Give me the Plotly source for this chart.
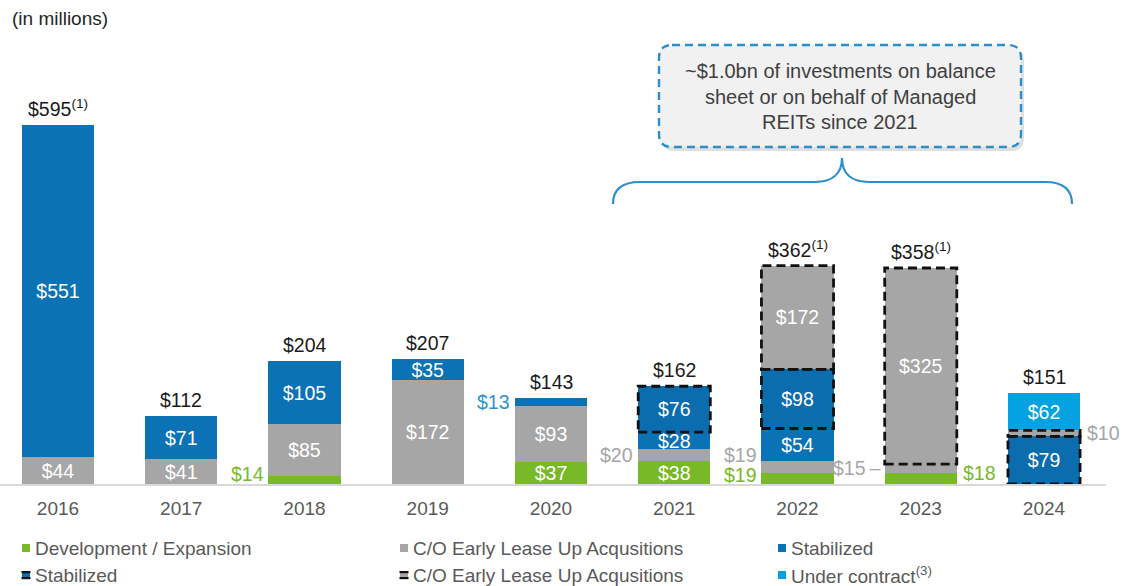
import plotly.graph_objects as go

# ---------------- data ----------------
years = ["2016", "2017", "2018", "2019", "2020", "2021", "2022", "2023", "2024"]
development = [0, 0, 14, 0, 37, 38, 19, 18, 0]
early_lease = [44, 41, 85, 172, 93, 20, 19, 15, 0]
stabilized = [551, 71, 105, 35, 13, 28, 54, 0, 0]
stabilized_dashed = [0, 0, 0, 0, 0, 76, 98, 0, 79]
early_lease_dashed = [0, 0, 0, 0, 0, 0, 172, 325, 10]
under_contract = [0, 0, 0, 0, 0, 0, 0, 0, 62]
total_footnotes = ["(1)", "", "", "", "", "", "(1)", "(1)", ""]

series = [
    ("dev", "Development / Expansion", development, "#78b928"),
    ("early", "C/O Early Lease Up Acqusitions", early_lease, "#a6a6a6"),
    ("stab", "Stabilized", stabilized, "#0b72b6"),
    ("stab_d", "Stabilized", stabilized_dashed, "#0b6dae"),
    ("early_d", "C/O Early Lease Up Acqusitions", early_lease_dashed, "#a6a6a6"),
    ("under", "Under contract<sup>(3)</sup>", under_contract, "#05a2e2"),
]
dashed_keys = ["stab_d", "early_d"]

# labels drawn beside a bar: (series key, year index, side, vertical shift px, colour, suffix)
outside_labels = [
    ("dev", 2, "left", 6, "#78b928", ""),
    ("stab", 4, "left", 0, "#2a93d0", ""),
    ("early", 5, "left", 0, "#a6a6a6", ""),
    ("early", 6, "left", 12, "#a6a6a6", ""),
    ("dev", 6, "left", 3, "#78b928", ""),
    ("early", 7, "left", 1, "#a6a6a6", "\u2009\u2013"),
    ("dev", 7, "right", 6, "#78b928", ""),
    ("early_d", 8, "right", 0, "#a6a6a6", ""),
]

FONT = "Liberation Sans, Arial, sans-serif"
W, H = 1131, 586
PL, PR, PT, PB = 0, 1106, 10, 484  # plot area in pixels
BAR_W = 0.585
X_RANGE = [-0.4706, 8.503]
Y_MAX = 785.6
INSIDE_MIN = 25
LABEL_SIZE = 19.5


def px(xp):
    return (xp - PL) / (PR - PL)


def py(yp):
    return (PB - yp) / (PB - PT)


def pt(xp, yp):
    return f"{px(xp):.5f},{py(yp):.5f}"


xs = list(range(len(years)))
fig = go.Figure()
values_by_key = {}
for key, name, vals, color in series:
    values_by_key[key] = vals
    fig.add_trace(go.Bar(
        x=xs, y=vals, name=name, width=BAR_W,
        marker=dict(color=color, line=dict(width=0)),
        text=[f"${v}" for v in vals],
        textposition=["inside" if v >= INSIDE_MIN else "none" for v in vals],
        insidetextanchor="middle", textangle=0,
        constraintext="none",
        textfont=dict(color="white", size=LABEL_SIZE, family=FONT),
        hoverinfo="skip", showlegend=False,
    ))

# cumulative bottoms for each series
bottoms = {}
running = [0] * len(years)
for key, name, vals, color in series:
    bottoms[key] = list(running)
    running = [r + v for r, v in zip(running, vals)]
totals = running

shapes = []
annotations = []

# dashed outlines around dashed series segments
for key in dashed_keys:
    vals = values_by_key[key]
    for i, v in enumerate(vals):
        if v > 0:
            shapes.append(dict(
                type="rect", xref="x", yref="y",
                x0=i - BAR_W / 2, x1=i + BAR_W / 2,
                y0=bottoms[key][i], y1=bottoms[key][i] + v,
                line=dict(color="#111111", width=2.8, dash="9px,5px"),
                fillcolor="rgba(0,0,0,0)", layer="above",
            ))

# totals above bars
for i, t in enumerate(totals):
    fn = total_footnotes[i]
    txt = f"${t}" + (f"<sup>{fn}</sup>" if fn else "")
    annotations.append(dict(
        x=i, y=t, xref="x", yref="y", text=txt, showarrow=False,
        yanchor="bottom", yshift=3, xanchor="center",
        font=dict(size=LABEL_SIZE, color="#1a1a1a", family=FONT),
    ))

# labels beside bars
for key, i, side, shift, color, suffix in outside_labels:
    v = values_by_key[key][i]
    yc = bottoms[key][i] + v / 2
    annotations.append(dict(
        x=i - 0.315 if side == "left" else i + 0.33, y=yc,
        xref="x", yref="y", text=f"${v}{suffix}", showarrow=False,
        xanchor="right" if side == "left" else "left", yanchor="middle",
        yshift=shift, font=dict(size=LABEL_SIZE, color=color, family=FONT),
    ))

# "(in millions)"
annotations.append(dict(
    x=px(10), y=py(18), xref="paper", yref="paper", text="(in millions)",
    showarrow=False, xanchor="left", yanchor="middle",
    font=dict(size=19, color="#262626", family=FONT),
))

# curly bracket
brace = ("M " + pt(613, 204) +
         " C " + pt(613, 190) + " " + pt(621, 182) + " " + pt(640, 182) +
         " L " + pt(815, 182) +
         " C " + pt(832, 182) + " " + pt(842, 174) + " " + pt(842, 158) +
         " C " + pt(842, 174) + " " + pt(852, 182) + " " + pt(869, 182) +
         " L " + pt(1045, 182) +
         " C " + pt(1064, 182) + " " + pt(1072, 190) + " " + pt(1072, 204))
shapes.append(dict(type="path", xref="paper", yref="paper", path=brace,
                   line=dict(color="#2b8fcf", width=2.2), layer="above"))


def rounded(x0, y0, x1, y1, r):
    return ("M " + pt(x0 + r, y0) + " L " + pt(x1 - r, y0) +
            " Q " + pt(x1, y0) + " " + pt(x1, y0 + r) +
            " L " + pt(x1, y1 - r) +
            " Q " + pt(x1, y1) + " " + pt(x1 - r, y1) +
            " L " + pt(x0 + r, y1) +
            " Q " + pt(x0, y1) + " " + pt(x0, y1 - r) +
            " L " + pt(x0, y0 + r) +
            " Q " + pt(x0, y0) + " " + pt(x0 + r, y0) + " Z")


# callout shadow + box
shapes.append(dict(type="path", xref="paper", yref="paper",
                   path=rounded(662, 48, 1024, 151, 13),
                   fillcolor="rgba(0,0,0,0.12)", line=dict(width=0), layer="above"))
shapes.append(dict(type="path", xref="paper", yref="paper",
                   path=rounded(659, 45, 1021, 147, 13),
                   fillcolor="#f1f1f1",
                   line=dict(color="#2b8fcf", width=2.4, dash="8px,5px"), layer="above"))
callout_lines = ["~$1.0bn of investments on balance",
                 "sheet or on behalf of Managed",
                 "REITs since 2021"]
for k, line in enumerate(callout_lines):
    annotations.append(dict(
        x=px(840), y=py(71 + 25.5 * k), xref="paper", yref="paper", text=line,
        showarrow=False, xanchor="center", yanchor="middle",
        font=dict(size=20, color="#404040", family=FONT),
    ))

# manual legend (2 rows x 3 columns)
legend_cols = [22, 400, 778]
legend_rows = [548, 575]
for idx, (key, name, vals, color) in enumerate(series):
    row, col = divmod(idx, 3)
    x0 = legend_cols[col]
    yc = legend_rows[row]
    shapes.append(dict(type="rect", xref="paper", yref="paper",
                       x0=px(x0), x1=px(x0 + 8), y0=py(yc + 4), y1=py(yc - 4),
                       fillcolor=color, line=dict(width=0)))
    if key in dashed_keys:
        for yy in (yc - 4, yc + 2):
            shapes.append(dict(type="rect", xref="paper", yref="paper",
                               x0=px(x0 - 0.5), x1=px(x0 + 8.5), y0=py(yy + 2.2), y1=py(yy),
                               fillcolor="#111111", line=dict(width=0)))
    annotations.append(dict(
        x=px(x0 + 11), y=py(yc), xref="paper", yref="paper", text=name,
        showarrow=False, xanchor="left", yanchor="middle",
        font=dict(size=19, color="#595959", family=FONT),
    ))

fig.update_layout(
    width=W, height=H,
    margin=dict(l=PL, r=W - PR, t=PT, b=H - PB, pad=0),
    barmode="stack",
    plot_bgcolor="white", paper_bgcolor="white",
    shapes=shapes, annotations=annotations,
    showlegend=False,
    xaxis=dict(range=X_RANGE, tickmode="array", tickvals=xs, ticktext=years,
               showgrid=False, zeroline=False, showline=True,
               linecolor="#d9d9d9", linewidth=1.5, ticks="",
               ticklabelstandoff=6,
               tickfont=dict(size=19, color="#595959", family=FONT),
               fixedrange=True),
    yaxis=dict(range=[0, Y_MAX], visible=False, fixedrange=True),
)

fig.write_html("out.html", config={"displayModeBar": False},
               post_script="document.body.style.margin='0px';document.body.style.overflow='hidden';")
